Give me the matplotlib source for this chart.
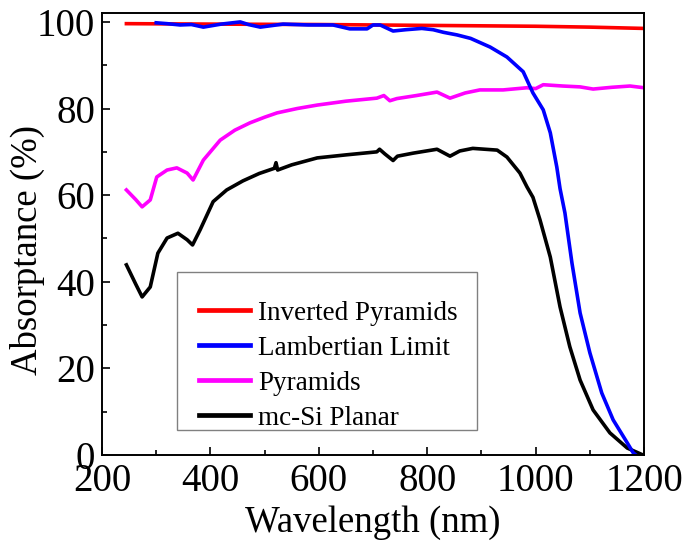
import numpy as np
import matplotlib
matplotlib.use("Agg")
import matplotlib.pyplot as plt
from matplotlib.ticker import MultipleLocator
from matplotlib.patches import Rectangle

plt.rcParams['font.family'] = ['Liberation Serif', 'DejaVu Serif']

# absorptance curves (wavelength nm, absorptance %)
inv_x = [245, 400, 600, 800, 1000, 1100, 1200]
inv_y = [99.6, 99.5, 99.4, 99.2, 99.0, 98.8, 98.5]

lam_x = [300, 320, 344, 365, 387, 420, 455, 470, 492, 534, 580, 626, 657, 689,
         700, 713, 737, 760, 790, 811, 830, 855, 880, 916, 947, 977, 995, 1014,
         1027, 1039, 1045, 1054, 1067, 1082, 1100, 1122, 1143, 1169, 1180, 1185]
lam_y = [99.8, 99.6, 99.3, 99.4, 98.8, 99.5, 100.0, 99.4, 98.8, 99.5, 99.3, 99.3,
         98.4, 98.4, 99.3, 99.3, 97.9, 98.2, 98.5, 98.2, 97.6, 97.0, 96.2, 94.2,
         91.9, 88.5, 83.6, 79.7, 74.4, 66.5, 61.5, 55.9, 44.3, 32.8, 23.6, 14.3,
         8.1, 2.8, 0.5, 0.0]

pyr_x = [245, 262, 274, 289, 301, 320, 338, 357, 368, 387, 418, 445, 473, 500,
         523, 560, 597, 650, 707, 720, 731, 744, 780, 818, 842, 870, 897, 940,
         984, 1000, 1014, 1050, 1082, 1106, 1140, 1174, 1200]
pyr_y = [61.2, 59.0, 57.3, 58.9, 64.2, 65.8, 66.3, 65.1, 63.5, 68.1, 72.7, 75.0,
         76.7, 78.0, 79.0, 80.0, 80.8, 81.7, 82.4, 83.0, 81.8, 82.3, 83.0, 83.8,
         82.4, 83.6, 84.3, 84.3, 84.8, 84.6, 85.5, 85.2, 85.0, 84.5, 84.9, 85.2,
         84.8]

pla_x = [245, 262, 274, 289, 303, 320, 340, 357, 367, 381, 405, 430, 460, 490,
         518, 521, 524, 550, 597, 650, 707, 712, 722, 737, 745, 774, 818, 842,
         860, 884, 929, 947, 971, 984, 995, 1008, 1027, 1045, 1063, 1082, 1106,
         1137, 1169, 1198]
pla_y = [43.9, 39.5, 36.5, 38.8, 46.6, 50.1, 51.2, 49.7, 48.5, 52.0, 58.5, 61.2,
         63.3, 65.0, 66.2, 67.5, 65.8, 67.0, 68.6, 69.3, 70.0, 70.6, 69.5, 68.0,
         69.0, 69.7, 70.6, 69.0, 70.2, 70.8, 70.4, 68.8, 65.1, 61.9, 59.5, 54.3,
         45.7, 34.2, 25.0, 17.3, 10.4, 5.1, 1.6, 0.0]

fig = plt.figure(figsize=(6.87, 5.46), dpi=100)
ax = fig.add_axes([0.1485, 0.1667, 0.789, 0.809])

lw = 2.6
h_inv, = ax.plot(inv_x, inv_y, color='#ff0000', lw=lw, label='Inverted Pyramids')
h_pyr, = ax.plot(pyr_x, pyr_y, color='#ff00ff', lw=lw, label='Pyramids')
h_pla, = ax.plot(pla_x, pla_y, color='black', lw=lw, label='mc-Si Planar')
h_lam, = ax.plot(lam_x, lam_y, color='#0000ff', lw=lw, label='Lambertian Limit')

ax.set_xlim(200, 1200)
ax.set_ylim(0, 102)
ax.xaxis.set_major_locator(MultipleLocator(200))
ax.xaxis.set_minor_locator(MultipleLocator(100))
ax.yaxis.set_major_locator(MultipleLocator(20))
ax.yaxis.set_minor_locator(MultipleLocator(10))
ax.tick_params(which='both', direction='in', top=False, right=False,
               labelsize=28, width=1.2)
ax.tick_params(axis='x', which='major', length=6, pad=6)
ax.tick_params(axis='y', which='major', length=6, pad=5)
ax.tick_params(which='minor', length=3.5)
for s in ax.spines.values():
    s.set_linewidth(1.4)

ax.set_xlabel('Wavelength (nm)', fontsize=26.5, labelpad=4)
ax.set_ylabel('Absorptance (%)', fontsize=26.5)
ax.yaxis.set_label_coords(-0.105, 0.465)

# legend box drawn separately so the padding matches the original
ax.add_patch(Rectangle((0.1384, 0.0566), 0.5535, 0.3577, transform=ax.transAxes,
                       facecolor='white', edgecolor='#808080', lw=1.0, zorder=4))
leg = ax.legend(handles=[h_inv, h_lam, h_pyr, h_pla], loc='upper left',
                bbox_to_anchor=(0.178, 0.349), fontsize=19.5, frameon=False,
                handlelength=1.9, handletextpad=0.3, labelspacing=0.37,
                borderpad=0, borderaxespad=0)
leg.set_zorder(5)
for line in leg.get_lines():
    line.set_linewidth(3.4)

fig.savefig('out.png', dpi=100)
